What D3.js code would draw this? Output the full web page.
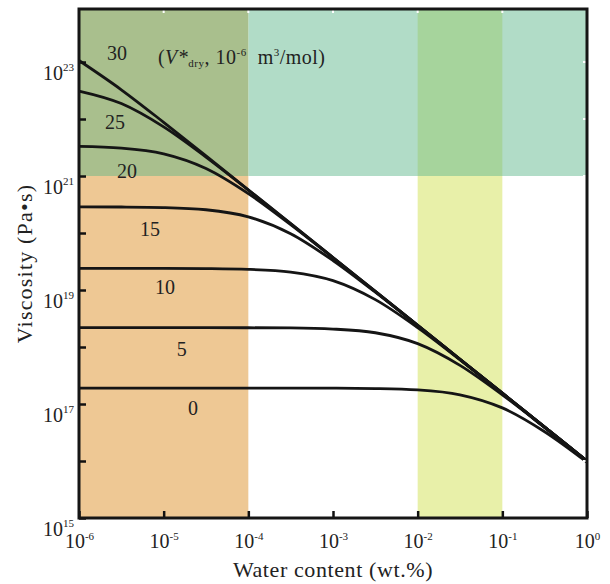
<!DOCTYPE html>
<html>
<head>
<meta charset="utf-8">
<script src="https://cdn.jsdelivr.net/npm/d3@7"></script>
<style>
  body { margin: 0; background: #fff; }
  text { font-family: "Liberation Serif", "DejaVu Serif", serif; fill: #222; }
</style>
</head>
<body>
<div id="chart"></div>
<script>
// water content grid, as exponents of 10 (wt.%)
var waterExp = [-6, -5.5, -5, -4.5, -4, -3.5, -3, -2.5, -2, -1.5, -1, -0.5, 0];

// V*dry (10^-6 m3/mol) for each curve
var vDry = [0, 5, 10, 15, 20, 25, 30];

// log10 viscosity (Pa s) at each grid point
var visc0  = [17.28, 17.28, 17.28, 17.28, 17.28, 17.28, 17.278, 17.271, 17.247, 17.162, 16.932, 16.513, 15.978];
var visc5  = [18.34, 18.34, 18.34, 18.34, 18.338, 18.334, 18.315, 18.25, 18.059, 17.678, 17.16, 16.587, 15.998];
var visc10 = [19.38, 19.38, 19.379, 19.375, 19.362, 19.314, 19.164, 18.831, 18.339, 17.774, 17.187, 16.594, 16.0];
var visc15 = [20.459, 20.456, 20.446, 20.408, 20.284, 19.987, 19.517, 18.961, 18.376, 17.784, 17.19, 16.595, 16.0];
var visc20 = [21.52, 21.49, 21.39, 21.133, 20.692, 20.147, 19.565, 18.974, 18.38, 17.785, 17.19, 16.595, 16.0];
var visc25 = [22.49, 22.271, 21.862, 21.331, 20.754, 20.163, 19.57, 18.975, 18.38, 17.785, 17.19, 16.595, 16.0];
var visc30 = [23.026, 22.513, 21.942, 21.353, 20.758, 20.165, 19.57, 18.975, 18.38, 17.785, 17.19, 16.595, 16.0];

// where each curve label sits (log10 water, log10 viscosity)
var labelWater = [-4.655, -4.785, -4.985, -5.162, -5.434, -5.575, -5.552];
var labelVisc  = [16.93, 17.96, 19.05, 20.07, 21.09, 21.95, 23.16];

// axis ticks (exponents)
var xTickExp = [-6, -5, -4, -3, -2, -1, 0];
var yTickExp = [15, 16, 17, 18, 19, 20, 21, 22, 23];
var yLabelExp = [15, 17, 19, 21, 23];

// shaded regions, exponents: [x0, x1, y0, y1]
var yTopExp = 23.93;
var regions = [
  { name: 'teal',   box: [-4, 0, 21, yTopExp] },
  { name: 'olive',  box: [-6, -4, 21, yTopExp] },
  { name: 'green',  box: [-2, -1, 21, yTopExp] },
  { name: 'orange', box: [-6, -4, 15, 21] },
  { name: 'yellow', box: [-2, -1, 15, 21] }
];
var regionColor = {
  teal: '#b1dcc7', olive: '#a9bf8d', green: '#a6d49c',
  orange: '#eec894', yellow: '#e8f0a9'
};

var series = [visc0, visc5, visc10, visc15, visc20, visc25, visc30];

var margin = { top: 9, right: 23, bottom: 66, left: 79 };
var width = 610 - margin.left - margin.right;
var height = 584 - margin.top - margin.bottom;

var pow10 = function(e) { return Math.pow(10, e); };

var x = d3.scaleLog().domain([1e-6, 1]).range([0, width]);
var y = d3.scaleLog().domain([1e15, pow10(yTopExp)]).range([height, 0]);

var svg = d3.select('#chart').append('svg')
   .attr('width', 610)
   .attr('height', 584);

var g = svg.append('g')
   .attr('transform', 'translate(' + margin.left + ',' + margin.top + ')');

// background regions
g.selectAll('rect.region')
   .data(regions)
   .enter().append('rect')
   .attr('class', 'region')
   .attr('x', function(d) { return x(pow10(d.box[0])); })
   .attr('width', function(d) { return x(pow10(d.box[1])) - x(pow10(d.box[0])); })
   .attr('y', function(d) { return y(pow10(d.box[3])); })
   .attr('height', function(d) { return y(pow10(d.box[2])) - y(pow10(d.box[3])); })
   .attr('fill', function(d) { return regionColor[d.name]; });

// curves
var line = d3.line()
   .x(function(d) { return x(pow10(d[0])); })
   .y(function(d) { return y(pow10(d[1])); })
   .curve(d3.curveMonotoneX);

g.selectAll('path.curve')
   .data(series)
   .enter().append('path')
   .attr('class', 'curve')
   .attr('fill', 'none')
   .attr('stroke', '#151515')
   .attr('stroke-width', 2.8)
   .attr('d', function(s) {
      return line(s.map(function(v, i) { return [waterExp[i], v]; }));
   });

// curve labels
g.selectAll('text.vlabel')
   .data(vDry)
   .enter().append('text')
   .attr('class', 'vlabel')
   .attr('x', function(d, i) { return x(pow10(labelWater[i])); })
   .attr('y', function(d, i) { return y(pow10(labelVisc[i])); })
   .attr('dy', '0.35em')
   .attr('text-anchor', 'middle')
   .style('font-size', '20px')
   .text(function(d) { return d; });

// unit note next to the "30" label
var note = g.append('text')
   .attr('x', x(pow10(-5.068)))
   .attr('y', y(pow10(23.09)))
   .attr('dy', '0.35em')
   .style('font-size', '20px')
   .style('letter-spacing', '0.5px');
note.append('tspan').text('(');
note.append('tspan').style('font-style', 'italic').text('V*');
note.append('tspan').style('font-size', '11px').attr('dy', '3').text('dry');
note.append('tspan').attr('dy', '-3').text(', 10');
note.append('tspan').style('font-size', '11px').attr('dy', '-8').text('-6');
note.append('tspan').attr('dy', '8').text('\u00a0 m');
note.append('tspan').style('font-size', '11px').attr('dy', '-8').text('3');
note.append('tspan').attr('dy', '8').text('/mol)');

// axes
function powerLabel(sel, e, size) {
   sel.text('');
   sel.append('tspan').text('10');
   sel.append('tspan').style('font-size', size + 'px').attr('dy', '-0.75em')
      .text(String(e));
}

var xAxis = g.append('g')
   .attr('transform', 'translate(0,' + height + ')')
   .call(d3.axisBottom(x)
      .tickValues(xTickExp.map(pow10))
      .tickSizeInner(-7)
      .tickSizeOuter(0)
      .tickPadding(16));
xAxis.selectAll('.tick text')
   .style('font-size', '20px')
   .attr('dy', '0.71em')
   .each(function(d, i) { powerLabel(d3.select(this), xTickExp[i], 11); });

var yAxis = g.append('g')
   .call(d3.axisLeft(y)
      .tickValues(yTickExp.map(pow10))
      .tickSizeInner(-7)
      .tickSizeOuter(0)
      .tickPadding(5));
yAxis.selectAll('.tick text')
   .style('font-size', '20px')
   .attr('dy', '0.85em')
   .each(function(d, i) {
      var e = yTickExp[i];
      if (yLabelExp.indexOf(e) < 0) d3.select(this).remove();
      else powerLabel(d3.select(this), e, 11);
   });

// faint top and right ticks
g.selectAll('line.topTick')
   .data(xTickExp.slice(1, -1))
   .enter().append('line')
   .attr('x1', function(e) { return x(pow10(e)); })
   .attr('x2', function(e) { return x(pow10(e)); })
   .attr('y1', 0).attr('y2', 4)
   .attr('stroke', '#fff').attr('stroke-width', 2);
g.selectAll('line.rightTick')
   .data(yTickExp.slice(1))
   .enter().append('line')
   .attr('x1', width).attr('x2', width - 4)
   .attr('y1', function(e) { return y(pow10(e)); })
   .attr('y2', function(e) { return y(pow10(e)); })
   .attr('stroke', '#fff').attr('stroke-width', 2);

g.selectAll('.domain').remove();
g.selectAll('.tick line').attr('stroke', '#111').attr('stroke-width', 2.5);

// frame
g.append('rect')
   .attr('width', width)
   .attr('height', height)
   .attr('fill', 'none')
   .attr('stroke', '#151515')
   .attr('stroke-width', 3);

// axis titles
svg.append('text')
   .attr('x', margin.left + width / 2)
   .attr('y', 577)
   .attr('text-anchor', 'middle')
   .style('font-size', '22px')
   .style('letter-spacing', '0.6px')
   .text('Water content (wt.%)');

svg.append('text')
   .attr('transform', 'translate(32,' + (margin.top + height / 2) + ') rotate(-90)')
   .attr('text-anchor', 'middle')
   .style('font-size', '22px')
   .style('letter-spacing', '1.2px')
   .text('Viscosity (Pa\u2022s)');
</script>
</body>
</html>
